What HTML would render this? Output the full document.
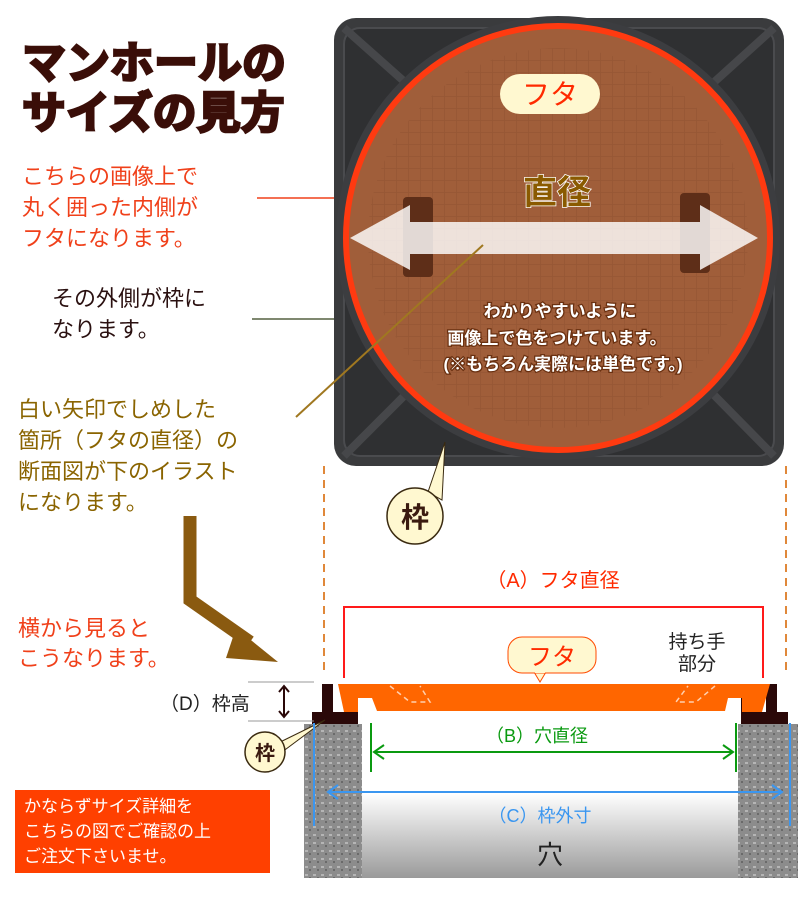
<!DOCTYPE html>
<html><head><meta charset="utf-8"><style>
body{margin:0;width:800px;height:900px;background:#fff;overflow:hidden}
svg text{font-family:"Liberation Sans","Noto Sans CJK JP",sans-serif}
</style></head><body>
<svg width="800" height="900" viewBox="0 0 800 900" xmlns="http://www.w3.org/2000/svg">
<defs>
<pattern id="g" width="12" height="12" patternUnits="userSpaceOnUse">
<path d="M0 0H12M0 0V12" stroke="#8a5030" stroke-width="1.5" opacity=".5"/></pattern>
<linearGradient id="hole" x1="0" y1="0" x2="0" y2="1"><stop offset="0" stop-color="#fff"/><stop offset=".45" stop-color="#fff"/><stop offset="1" stop-color="#9a9a9a"/></linearGradient>
<pattern id="con" width="8" height="8" patternUnits="userSpaceOnUse"><rect width="8" height="8" fill="#8c8c8c"/><rect x="1" y="2" width="3" height="2" fill="#b5b5b5"/><rect x="5" y="5" width="2" height="2" fill="#6a6a6a"/></pattern>
</defs>
<!-- title -->
<g font-weight="bold" font-size="44" fill="#3a0e08" stroke="#3a0e08" stroke-width="2.5">
<text x="22" y="78">マンホールの</text>
<text x="22" y="128">サイズの見方</text></g>
<g font-size="22" fill="#f0401a"><text x="22" y="184">こちらの画像上で</text><text x="22" y="215">丸く囲った内側が</text><text x="22" y="246">フタになります。</text></g>
<line x1="257" y1="198" x2="345" y2="198" stroke="#f0401a" stroke-width="1.5"/>
<g font-size="22" fill="#2a1010"><text x="52" y="306">その外側が枠に</text><text x="52" y="337">なります。</text></g>
<line x1="252" y1="319" x2="340" y2="319" stroke="#556040" stroke-width="1.5"/>
<g font-size="22" fill="#8a6400"><text x="18" y="417">白い矢印でしめした</text><text x="18" y="448">箇所（フタの直径）の</text><text x="18" y="479">断面図が下のイラスト</text><text x="18" y="510">になります。</text></g>
<!-- photo -->
<rect x="334" y="18" width="450" height="448" rx="22" fill="#3a3b3d"/>
<rect x="344" y="28" width="430" height="428" rx="16" fill="#2f3032" stroke="#4a4b4e" stroke-width="2"/>
<path d="M344 28L470 140M774 28L650 140M344 456L470 330M774 456L650 330" stroke="#46474a" stroke-width="8"/>
<circle cx="558" cy="238" r="222" fill="#3c3d40"/>
<circle cx="558" cy="238" r="212" fill="#a05e3a"/>
<circle cx="558" cy="238" r="190" fill="url(#g)"/>
<circle cx="558" cy="238" r="212" fill="none" stroke="#ff3a10" stroke-width="6"/>
<rect x="403" y="197" width="30" height="80" rx="4" fill="#5e2e18"/>
<rect x="680" y="193" width="30" height="80" rx="4" fill="#5e2e18"/>
<path d="M350 238L410 205V222H700V205L758 238L700 270V254H410V270Z" fill="#fff" opacity=".82"/>
<rect x="500" y="74" width="100" height="40" rx="20" fill="#fff8d0"/>
<text x="550" y="104" font-size="28" fill="#ff2a00" text-anchor="middle">フタ</text>
<text x="557" y="204" font-size="34" fill="#8a5a00" stroke="#fff" stroke-width="1.5" paint-order="stroke" text-anchor="middle" font-weight="bold">直径</text>
<g font-size="17" font-weight="bold" fill="#fff" stroke="#6a3010" stroke-width="2.5" paint-order="stroke" text-anchor="middle"><text x="560" y="317">わかりやすいように</text><text x="557" y="344">画像上で色をつけています。</text><text x="563" y="370">(※もちろん実際には単色です。)</text></g>
<line x1="483" y1="245" x2="296" y2="417" stroke="#a07820" stroke-width="2"/>
<!-- 枠 bubble -->
<path d="M428 492L445 442L442 500Z" fill="#fff8d0" stroke="#3a2a10"/>
<circle cx="415" cy="516" r="28" fill="#fff8d0" stroke="#3a2a10" stroke-width="1.5"/>
<text x="415" y="527" font-size="28" font-weight="bold" fill="#3a1a10" text-anchor="middle">枠</text>
<!-- brown arrow -->
<path d="M190 516V600L250 642" fill="none" stroke="#8a5a10" stroke-width="13"/>
<path d="M236 628L278 662L226 658Z" fill="#8a5a10"/>
<g font-size="22" fill="#f0401a"><text x="18" y="636">横から見ると</text><text x="18" y="666">こうなります。</text></g>
<!-- dashed -->
<g stroke="#e0883a" stroke-width="2" stroke-dasharray="8 6"><line x1="324" y1="466" x2="324" y2="672"/><line x1="786" y1="466" x2="786" y2="672"/></g>
<text x="553" y="587" font-size="20" fill="#ff2a00" text-anchor="middle">（A）フタ直径</text>
<path d="M344 678V607H763V678" fill="none" stroke="#ff1a1a" stroke-width="2"/>
<!-- ground -->
<rect x="304" y="724" width="58" height="154" fill="url(#con)"/>
<rect x="738" y="724" width="60" height="154" fill="url(#con)"/>
<rect x="362" y="724" width="376" height="154" fill="url(#hole)"/>
<!-- frame & lid -->
<path d="M322 684H333V712H344V698H358V724H312V712H322Z" fill="#2a0808"/>
<path d="M777 684H766V712H755V698H741V724H788V712H777Z" fill="#2a0808"/>
<path d="M338 684H770L762 712H742V698H728L725 711H377L372 698H358V712H344Z" fill="#ff6600"/>
<g fill="none" stroke="#ffd0b0" stroke-width="1.5" stroke-dasharray="5 4"><path d="M390 686L410 702H430L420 686"/><path d="M715 686L696 702H676L688 686"/></g>
<path d="M534 672L540 682L546 672Z" fill="#fff8d0" stroke="#ff4a00"/>
<rect x="508" y="637" width="88" height="36" rx="14" fill="#fff8d0" stroke="#ff4a00"/>
<path d="M535 672H545" stroke="#fff8d0" stroke-width="2"/>
<text x="552" y="665" font-size="24" fill="#ff2a00" text-anchor="middle">フタ</text>
<g font-size="19" fill="#222" text-anchor="middle"><text x="697" y="648">持ち手</text><text x="697" y="670">部分</text></g>
<!-- D -->
<line x1="248" y1="682" x2="314" y2="682" stroke="#999"/><line x1="248" y1="721" x2="314" y2="721" stroke="#999"/>
<path d="M284 686V717M279 692L284 686L289 692M279 711L284 717L289 711" fill="none" stroke="#2a0808" stroke-width="2"/>
<text x="160" y="710" font-size="19" fill="#222">（D）枠高</text>
<path d="M268 748L325 720L274 758Z" fill="#fff8d0" stroke="#3a2a10"/>
<circle cx="265" cy="752" r="20" fill="#fff8d0" stroke="#3a2a10" stroke-width="1.5"/>
<text x="265" y="760" font-size="20" font-weight="bold" fill="#3a1a10" text-anchor="middle">枠</text>
<!-- B -->
<g stroke="#0a9a10" stroke-width="2" fill="none"><line x1="371" y1="723" x2="371" y2="772"/><line x1="736" y1="723" x2="736" y2="772"/><line x1="374" y1="752" x2="733" y2="752"/><path d="M384 745L374 752L384 759M723 745L733 752L723 759"/></g>
<text x="537" y="742" font-size="18" fill="#0a9a10" text-anchor="middle">（B）穴直径</text>
<!-- C -->
<g stroke="#3a96f0" stroke-width="2" fill="none"><line x1="314" y1="723" x2="314" y2="826"/><line x1="790" y1="723" x2="790" y2="826"/><line x1="328" y1="792" x2="782" y2="792"/><path d="M338 785L328 792L338 799M772 785L782 792L772 799"/></g>
<text x="540" y="822" font-size="18" fill="#3a96f0" text-anchor="middle">（C）枠外寸</text>
<text x="550" y="864" font-size="26" fill="#222" text-anchor="middle">穴</text>
<!-- red box -->
<rect x="15" y="790" width="255" height="83" fill="#ff4000"/>
<g font-size="17" fill="#fff"><text x="24" y="812">かならずサイズ詳細を</text><text x="24" y="837">こちらの図でご確認の上</text><text x="24" y="862">ご注文下さいませ。</text></g>
</svg>
</body></html>
